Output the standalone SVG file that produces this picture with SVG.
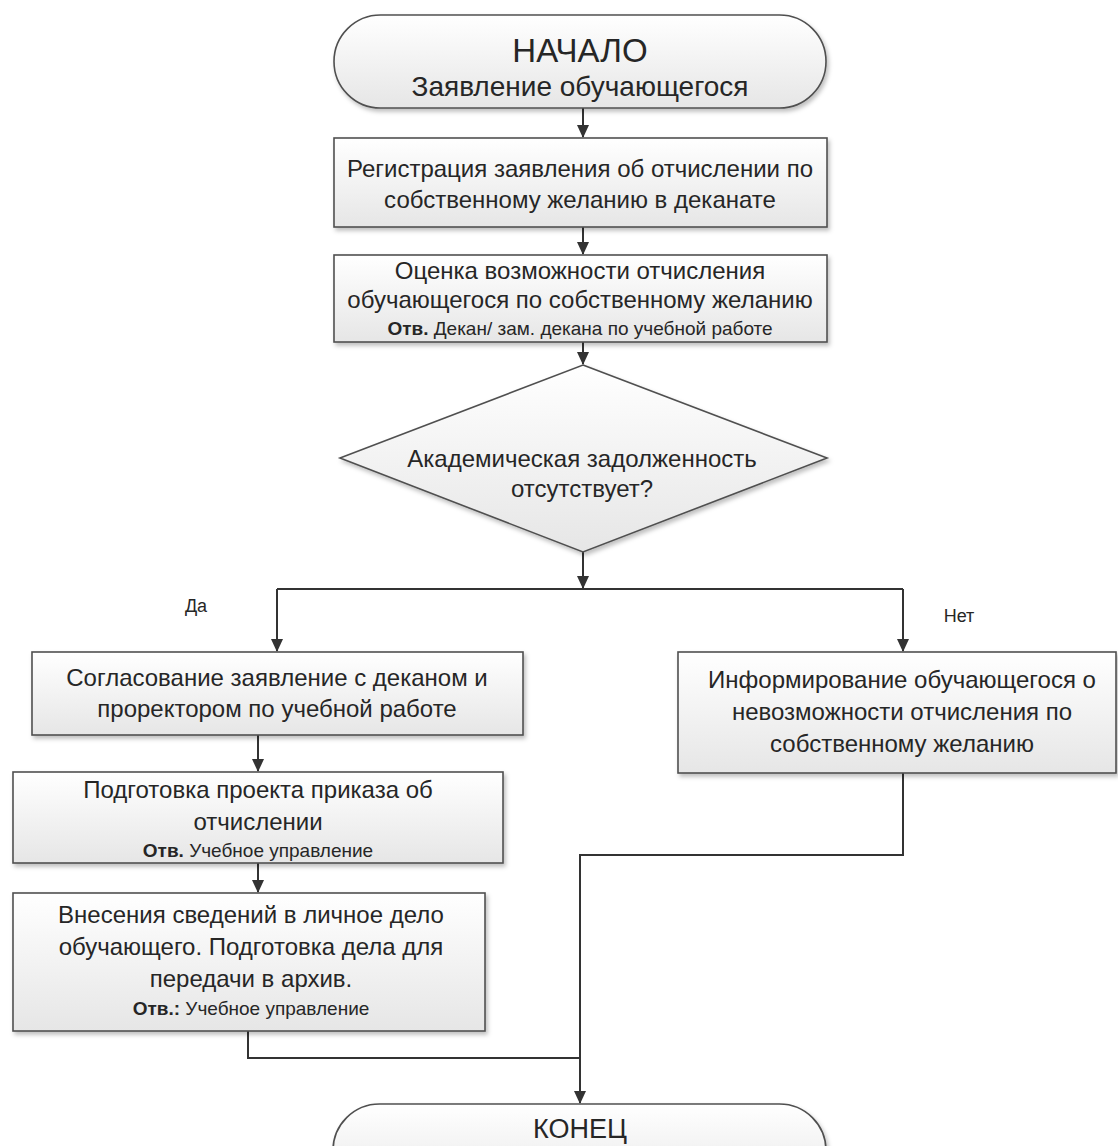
<svg xmlns="http://www.w3.org/2000/svg" width="1118" height="1146" viewBox="0 0 1118 1146">
<style>
.box{fill:url(#g);stroke:#505050;stroke-width:1.6;filter:url(#sh)}
.t{font-family:"Liberation Sans",Arial,sans-serif;font-size:24px;fill:#262626;text-anchor:middle}
.s{font-size:19px}
.b{font-weight:bold}
.lbl{font-family:"Liberation Sans",Arial,sans-serif;font-size:18px;fill:#262626;text-anchor:middle}
.c{fill:none;stroke:#333;stroke-width:2}
</style>
<defs>
<linearGradient id="g" x1="0" y1="0" x2="0" y2="1">
<stop offset="0" stop-color="#ffffff"/>
<stop offset="1" stop-color="#e6e6e6"/>
</linearGradient>
<filter id="sh" x="-5%" y="-5%" width="110%" height="120%">
<feDropShadow dx="2" dy="3" stdDeviation="2" flood-color="#000" flood-opacity="0.25"/>
</filter>
<marker id="ar" markerWidth="13" markerHeight="12" refX="12" refY="6" orient="auto" markerUnits="userSpaceOnUse" viewBox="0 0 13 12">
<path d="M0,0 L13,6 L0,12 Z" fill="#333"/>
</marker>
</defs>
<rect width="1118" height="1146" fill="#fff"/>
<g id="connectors">
<path class="c" d="M583,108 V137" marker-end="url(#ar)"/>
<path class="c" d="M583,227 V254" marker-end="url(#ar)"/>
<path class="c" d="M583,342 V364" marker-end="url(#ar)"/>
<path class="c" d="M583,552 V588" marker-end="url(#ar)"/>
<path class="c" d="M277,589 H903"/>
<path class="c" d="M277,589 V651" marker-end="url(#ar)"/>
<path class="c" d="M903,589 V651" marker-end="url(#ar)"/>
<path class="c" d="M258,735 V771" marker-end="url(#ar)"/>
<path class="c" d="M258,863 V892" marker-end="url(#ar)"/>
<path class="c" d="M903,773 V855 H580 V1103" marker-end="url(#ar)"/>
<path class="c" d="M248,1031 V1058 H580"/>
<text class="lbl" x="196" y="612">Да</text>
<text class="lbl" x="959" y="622">Нет</text>
</g>
<g id="start">
<rect class="box" x="334" y="15" width="492" height="93" rx="46.5" ry="46.5"/>
<text class="t" x="580" y="62" style="font-size:33px">НАЧАЛО</text>
<text class="t" x="580" y="96" style="font-size:28px">Заявление обучающегося</text>
</g>
<g id="registration">
<rect class="box" x="334" y="138" width="493" height="89"/>
<text class="t" x="580" y="177">Регистрация заявления об отчислении по</text>
<text class="t" x="580" y="208">собственному желанию в деканате</text>
</g>
<g id="evaluation">
<rect class="box" x="334" y="255" width="493" height="87"/>
<text class="t" x="580" y="279">Оценка возможности отчисления</text>
<text class="t" x="580" y="308">обучающегося по собственному желанию</text>
<text class="t s" x="580" y="335"><tspan class="b">Отв.</tspan> Декан/ зам. декана по учебной работе</text>
</g>
<g id="decision">
<polygon class="box" points="583,365 827,458 583,552 340,458"/>
<text class="t" x="582" y="467">Академическая задолженность</text>
<text class="t" x="582" y="497">отсутствует?</text>
</g>
<g id="approval">
<rect class="box" x="32" y="652" width="491" height="83"/>
<text class="t" x="277" y="686">Согласование заявление с деканом и</text>
<text class="t" x="277" y="717">проректором по учебной работе</text>
</g>
<g id="inform">
<rect class="box" x="678" y="652" width="438" height="121"/>
<text class="t" x="902" y="688">Информирование обучающегося о</text>
<text class="t" x="902" y="720">невозможности отчисления по</text>
<text class="t" x="902" y="752">собственному желанию</text>
</g>
<g id="order">
<rect class="box" x="13" y="772" width="490" height="91"/>
<text class="t" x="258" y="798">Подготовка проекта приказа об</text>
<text class="t" x="258" y="830">отчислении</text>
<text class="t s" x="258" y="857"><tspan class="b">Отв.</tspan> Учебное управление</text>
</g>
<g id="records">
<rect class="box" x="13" y="893" width="472" height="138"/>
<text class="t" x="251" y="923">Внесения сведений в личное дело</text>
<text class="t" x="251" y="955">обучающего. Подготовка дела для</text>
<text class="t" x="251" y="987">передачи в архив.</text>
<text class="t s" x="251" y="1015"><tspan class="b">Отв.:</tspan> Учебное управление</text>
</g>
<g id="end">
<rect class="box" x="333" y="1104" width="493" height="93" rx="46.5" ry="46.5"/>
<text class="t" x="580" y="1138" style="font-size:27px">КОНЕЦ</text>
</g>
</svg>
